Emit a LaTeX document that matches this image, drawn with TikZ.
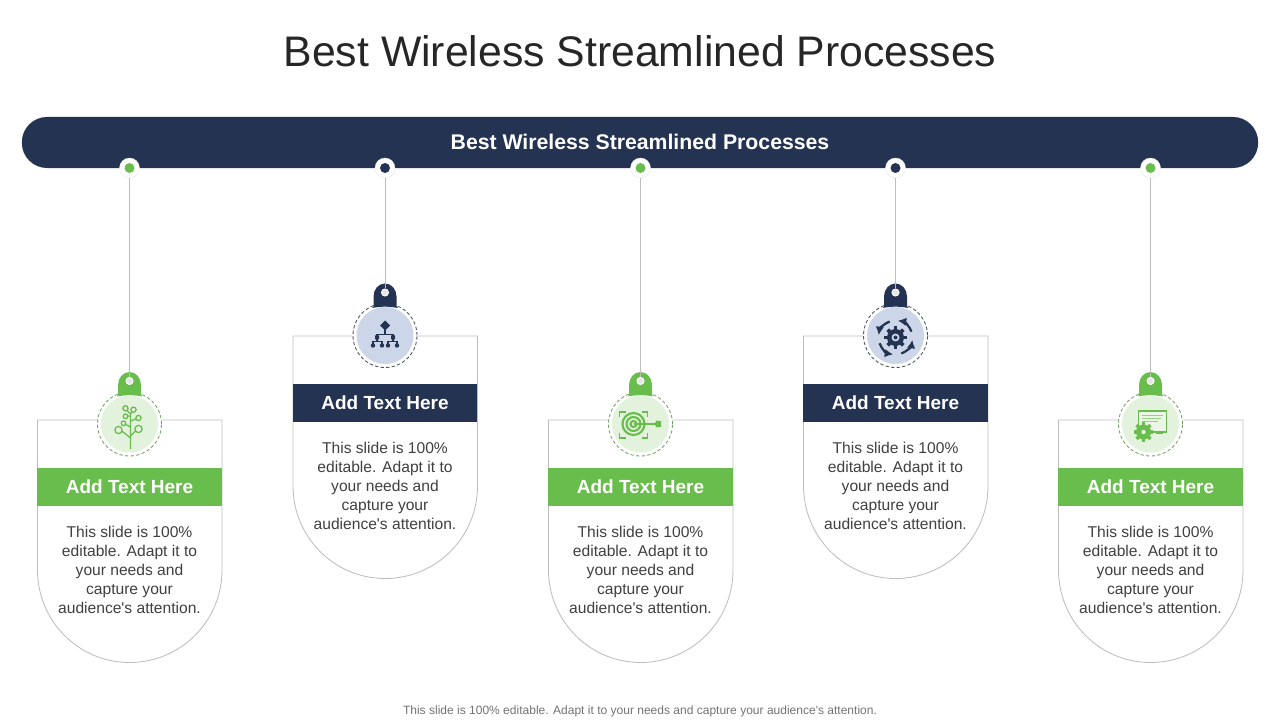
\documentclass[tikz,border=0pt]{standalone}
\usepackage{fontspec}
\setmainfont{Liberation Sans}
\usetikzlibrary{arrows.meta}
\definecolor{navy}{HTML}{253352}
\definecolor{leaf}{HTML}{69BD4C}
\definecolor{paleleaf}{HTML}{E2F2DC}
\definecolor{palenavy}{HTML}{CDD6E8}
\definecolor{inkgray}{HTML}{404040}
\definecolor{rulegray}{HTML}{BDBDBD}
\tikzset{
  bandbox/.style={fill=navy,text=white,minimum width=30.9cm,minimum height=1.275cm,rounded corners=0.63cm,font=\fontsize{15.1}{18}\selectfont\bfseries},
  halo/.style={circle,fill=white,draw=gray!20,line width=0.3pt,minimum size=14.2pt,inner sep=0},
  pin/.style={circle,minimum size=7.1pt,inner sep=0},
  headbox/.style={minimum width=4.6cm,minimum height=0.95cm,text=white,font=\fontsize{13.5}{16}\selectfont\bfseries},
  bodytext/.style={align=center,text=inkgray,font=\fontsize{11.1}{13.47}\selectfont},
  card/.style={draw=rulegray,line width=0.6pt},
  wire/.style={draw=rulegray,line width=0.7pt},
  ringdash/.style={dash pattern=on 2.4pt off 1.6pt,line width=0.6pt}
}
% small icons, all around (0,0) of the hub
\newcommand{\gearshape}[2]{%
  \foreach \a in {0,45,...,315}
    \fill[rotate=\a,#2] (#1*0.8,-#1*0.22) rectangle (#1*1.3,#1*0.22);
  \fill[#2] (0,0) circle [radius=#1];
}
\newcommand{\icontree}{%
  \draw[leaf,line width=0.9pt] (1,-25) -- (1,10) (1,-14) -- (-9,-6) (1,-12) -- (8,-5) (1,-3) -- (-6,0.7) (1,3) -- (9,6) (1,8) -- (-4,7.7) (1,10) -- (-4,15) (1,10) -- (4,14);
  \draw[leaf,line width=0.9pt,fill=paleleaf] (-4,15.7) circle [radius=2.6] (4,14.3) circle [radius=2.6] (-4,7.7) circle [radius=2.3] (9,6) circle [radius=2.6] (-6,0.7) circle [radius=2.3] (-11,-6) circle [radius=3.6] (9,-5) circle [radius=3.6];
}
\newcommand{\iconchart}{%
  \draw[navy,line width=0.9pt] (0,10) -- (0,1) (-8,-2) -- (-8,1) -- (8,1) -- (8,-2) (-12,-10) -- (-12,-6) -- (-3,-6) -- (-3,-10) (3,-10) -- (3,-6) -- (12,-6) -- (12,-10) (-8,-2) -- (-8,-6) (8,-2) -- (8,-6);
  \fill[navy] (0,15) -- (5,10) -- (0,5) -- (-5,10) -- cycle;
  \fill[navy] (-10,-4) rectangle (-6,0) (6,-4) rectangle (10,0);
  \fill[navy] (-12,-10) circle [radius=2.2] (-3,-10) circle [radius=2.2] (3,-10) circle [radius=2.2] (12,-10) circle [radius=2.2];
}
\newcommand{\icontarget}{%
  \draw[leaf,line width=1.5pt] (-7,0) circle [radius=11] (-7,0) circle [radius=7] (-7,0) circle [radius=3];
  \draw[leaf,line width=1.4pt] (-21,7) -- (-21,12) -- (-15,12) (1,12) -- (7,12) -- (7,7) (-21,-9) -- (-21,-14) -- (-15,-14) (1,-14) -- (7,-14) -- (7,-9);
  \draw[leaf,line width=1.1pt] (-7,0) -- (20,0);
  \fill[leaf] (14,0) -- (16,3.5) -- (21,2.5) -- (20,0) -- (21,-2.5) -- (16,-3.5) -- cycle;
}
\newcommand{\iconcycle}{%
  \begin{scope}[yshift=-2*0.025cm]
  \gearshape{8.5}{navy}
  \fill[palenavy] (0,0) circle [radius=4];
  \fill[navy] (0,0) circle [radius=2];
  \foreach \a in {20,110,200,290}
    \draw[navy,line width=1.6pt,-{Latex[length=6pt,width=6pt]}] (\a:17) arc [start angle=\a,end angle=\a+62,radius=17];
  \end{scope}
}
\newcommand{\iconcert}{%
  \draw[leaf,line width=0.8pt,fill=paleleaf!70!white] (-12,13) rectangle (16,-8);
  \draw[leaf!70!white,line width=0.7pt] (-9,9) -- (12,9) (-9,6) -- (10,6) (-9,3) -- (7,3);
  \begin{scope}[shift={(-7,-8)}]
  \gearshape{7.5}{leaf}
  \fill[paleleaf] (0,0) circle [radius=2.2];
  \end{scope}
  \fill[leaf] (5,-8) rectangle (12,-10);
}
\begin{document}
\begin{tikzpicture}[x=0.025cm,y=0.025cm]
  \useasboundingbox (0,0) rectangle (1280,-720);
  %шапка
  \node[text=black!85,font=\fontsize{30.4}{36}\selectfont] (title) at (640,-51) {Best Wireless Streamlined Processes};
  \node[bandbox] (band) at (640,-142.5) {\raisebox{1pt}{Best Wireless Streamlined Processes}};
  %карточки
  \foreach \i/\cx/\top/\hub/\main/\soft/\icon in {%
    1/129.5/420/424/leaf/paleleaf/\icontree,
    2/385/336/335.5/navy/palenavy/\iconchart,
    3/640.5/420/424/leaf/paleleaf/\icontarget,
    4/895.5/336/335.5/navy/palenavy/\iconcycle,
    5/1150.5/420/424/leaf/paleleaf/\iconcert}
  {
    \node[halo] (halo\i) at (\cx,-168) {};
    \node[pin,fill=\main] (pin\i) at (\cx,-168) {};
    \begin{scope}[shift={(\cx,-\top)}]
      \draw[card] (-92,0) -- (92.5,0) -- (92.5,-150) to [out=-90,in=0] (0,-242.5) to [out=180,in=-90] (-92,-150) -- cycle;
      \node[headbox,fill=\main] (head\i) at (0,-67) {Add Text Here};
      \node[bodytext] (body\i) at (0,-150) {This slide is 100\%\\editable. Adapt it to\\your needs and\\capture your\\audience\textquotesingle s attention.};
    \end{scope}
    \begin{scope}[shift={(\cx,-\hub)}]
      \fill[white] (0,0) circle [radius=33];
      \fill[\soft] (0,0) circle [radius=28.5];
      \draw[\main!60!gray,ringdash] (0,0) circle [radius=32];
      \icon
      \fill[\main] (-11.5,29) -- (-11.5,39) to [out=90,in=180] (0,52) to [out=0,in=90] (11.5,39) -- (11.5,29) -- (13,27.5) to [out=170,in=10] (-13,27.5) -- cycle;
      \node[circle,fill=white!80!gray,draw=white,line width=0.7pt,minimum size=5pt,inner sep=0] (hole\i) at (0,43) {};
    \end{scope}
    \draw[wire] (halo\i) -- (hole\i);
  }
  %подпись
  \node[text=gray!90!black,font=\fontsize{8.55}{10}\selectfont] (note) at (640,-711) {This slide is 100\% editable. Adapt it to your needs and capture your audience\textquotesingle s attention.};
\end{tikzpicture}
\end{document}
